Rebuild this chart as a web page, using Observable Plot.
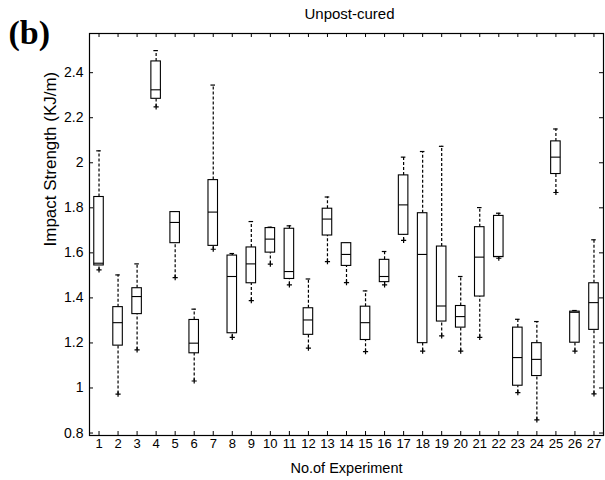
<!DOCTYPE html>
<html>
<head>
<meta charset="utf-8">
<script src="https://cdn.jsdelivr.net/npm/d3@7"></script>
<script src="https://cdn.jsdelivr.net/npm/@observablehq/plot@0.6"></script>
<style>
  html, body { margin: 0; padding: 0; background: white; }
</style>
</head>
<body>
<div id="chart"></div>
<script>
// ---- data ----
const experiments = [1,2,3,4,5,6,7,8,9,10,11,12,13,14,15,16,17,18,19,20,21,22,23,24,25,26,27];
const whiskerLow  = [1.524,0.973,1.169,2.248,1.490,1.031,1.616,1.225,1.388,1.550,1.458,1.177,1.561,1.468,1.161,1.458,1.655,1.164,1.231,1.164,1.225,1.576,0.979,0.858,1.868,1.164,0.974];
const q1          = [1.544,1.188,1.328,2.284,1.643,1.154,1.631,1.243,1.465,1.601,1.484,1.236,1.677,1.542,1.213,1.470,1.680,1.199,1.295,1.268,1.406,1.581,1.010,1.053,1.950,1.201,1.258];
const median      = [1.554,1.290,1.406,2.324,1.735,1.199,1.781,1.495,1.551,1.661,1.517,1.302,1.750,1.593,1.290,1.495,1.813,1.593,1.364,1.317,1.581,1.584,1.135,1.127,2.025,1.336,1.379];
const q3          = [1.848,1.359,1.443,2.450,1.781,1.302,1.923,1.588,1.624,1.710,1.707,1.354,1.796,1.643,1.361,1.569,1.944,1.776,1.628,1.364,1.714,1.764,1.268,1.199,2.095,1.339,1.465];
const whiskerHigh = [2.053,1.502,1.551,2.498,1.781,1.350,2.345,1.597,1.739,1.714,1.720,1.484,1.848,1.643,1.431,1.606,2.025,2.050,2.073,1.495,1.801,1.776,1.305,1.295,2.150,1.344,1.658];

const yTicks = [0.8, 1, 1.2, 1.4, 1.6, 1.8, 2, 2.2, 2.4];
const yTickLabels = ["0.8", "1", "1.2", "1.4", "1.6", "1.8", "2", "2.2", "2.4"];
const xTicks = experiments;

const titleText = "Unpost-cured";
const xLabel = "No.of Experiment";
const yLabel = "Impact Strength (KJ/m)";
const panelLabel = "(b)";

// ---- table built from the arrays ----
const rows = experiments.map((e, i) => ({
  exp: e, lo: whiskerLow[i], q1: q1[i], med: median[i], q3: q3[i], hi: whiskerHigh[i]
}));

// ---- layout ----
const W = 605, H = 480;
const mL = 89, mR = 2, mT = 33, mB = 45;
const plotW = W - mL - mR, plotH = H - mT - mB;
const half = 0.25, cap = 0.12;
const font = "'Liberation Sans', Arial, Helvetica, sans-serif";

const chart = Plot.plot({
  width: W,
  height: H,
  marginLeft: mL,
  marginRight: mR,
  marginTop: mT,
  marginBottom: mB,
  style: { fontFamily: font, fontSize: "13px", background: "white", color: "black", overflow: "visible" },
  x: { domain: [0.5, 27.5] },
  y: { domain: [0.789, 2.574] },
  marks: [
    // whiskers (dashed)
    Plot.ruleX(rows, { x: "exp", y1: "q3", y2: "hi", stroke: "black", strokeWidth: 1.2, strokeDasharray: "3,2" }),
    Plot.ruleX(rows, { x: "exp", y1: "lo", y2: "q1", stroke: "black", strokeWidth: 1.2, strokeDasharray: "3,2" }),
    // upper caps
    Plot.ruleY(rows, { x1: d => d.exp - cap, x2: d => d.exp + cap, y: "hi", stroke: "black", strokeWidth: 1.2 }),
    // lower ends (+)
    Plot.dot(rows, { x: "exp", y: "lo", symbol: "plus", r: 1.8, stroke: "black", strokeWidth: 1.2 }),
    // boxes
    Plot.rect(rows, { x1: d => d.exp - half, x2: d => d.exp + half, y1: "q1", y2: "q3", fill: "white", stroke: "black", strokeWidth: 1.1 }),
    // medians
    Plot.ruleY(rows, { x1: d => d.exp - half, x2: d => d.exp + half, y: "med", stroke: "black", strokeWidth: 1.1 }),
    // frame
    Plot.frame({ stroke: "black", strokeWidth: 1.2 }),
    // inward tick marks on all four sides
    Plot.ruleX(xTicks, { x: d => d, insetTop: plotH - 4, stroke: "black" }),
    Plot.ruleX(xTicks, { x: d => d, insetBottom: plotH - 4, stroke: "black" }),
    Plot.ruleY(yTicks, { y: d => d, insetRight: plotW - 4, stroke: "black" }),
    Plot.ruleY(yTicks, { y: d => d, insetLeft: plotW - 4, stroke: "black" }),
    // axes (labels only)
    Plot.axisX({ ticks: xTicks, tickSize: 0, tickPadding: 3, tickFormat: d => String(d), label: null, fontSize: 13 }),
    Plot.axisY({ ticks: yTicks, tickSize: 0, tickPadding: 6, tickFormat: d => yTickLabels[yTicks.indexOf(d)], label: null, fontSize: 14 }),
    // texts
    Plot.text([titleText], { text: d => d, frameAnchor: "top", dx: 3, dy: -14.5, lineAnchor: "bottom", fontSize: 15 }),
    Plot.text([xLabel], { text: d => d, frameAnchor: "bottom", dy: 37, lineAnchor: "bottom", fontSize: 14.5 }),
    Plot.text([yLabel], { text: d => d, frameAnchor: "left", rotate: -90, dx: -34, dy: 12, lineAnchor: "bottom", fontSize: 17 }),
    Plot.text([panelLabel], { text: d => d, frameAnchor: "top-left", dx: -81, dy: 10, textAnchor: "start", lineAnchor: "bottom", fontFamily: "'Liberation Serif', 'Times New Roman', serif", fontWeight: "bold", fontSize: 34 })
  ]
});

document.getElementById("chart").appendChild(chart);
</script>
</body>
</html>
